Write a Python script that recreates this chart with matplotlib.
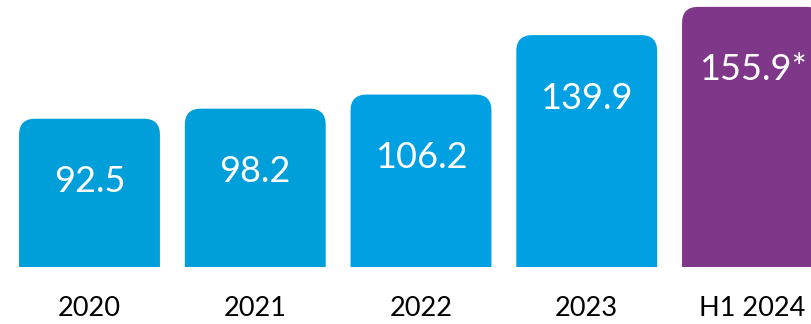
import matplotlib.pyplot as plt
from matplotlib.patches import FancyBboxPatch

years = ['2020', '2021', '2022', '2023', 'H1 2024']
values = [92.5, 98.2, 106.2, 139.9, 155.9]
value_labels = ['92.5', '98.2', '106.2', '139.9', '155.9*']
colors = ['#009fd9', '#009fd9', '#00a0e2', '#00a0e2', '#7f3789']

fig = plt.figure(figsize=(8.12, 3.24), dpi=100)
ax = fig.add_axes([0, 57 / 324, 1, 267 / 324])

# y axis starts above zero, like the original infographic
ax.set_xlim(-0.54, 4.359)
ax.set_ylim(8.45, 159.8)

x = list(range(len(years)))
width = 0.85
base = -20  # bars start below the visible area so only top corners are rounded
px_x = 812 / (4.359 + 0.54)
px_y = 267 / (159.8 - 8.45)
for xi, v, c in zip(x, values, colors):
    r = FancyBboxPatch((xi - width / 2, base), width, v - base,
                       boxstyle='round,pad=0,rounding_size=%f' % (16 / px_x),
                       mutation_aspect=px_x / px_y,
                       facecolor=c, edgecolor='none')
    ax.add_patch(r)

for xi, v, lab in zip(x, values, value_labels):
    ax.annotate(lab, (xi, v), xytext=(0, -45.4), textcoords='offset points',
                ha='center', va='center', color='white', fontsize=26,
                family='Lato')

for xi, lab in zip(x, years):
    ax.annotate(lab, (xi, 8.45), xytext=(0, -30), textcoords='offset points',
                ha='center', va='center', color='black', fontsize=19.5,
                family='Lato', annotation_clip=False)

ax.axis('off')
fig.savefig('out.png', dpi=100)
